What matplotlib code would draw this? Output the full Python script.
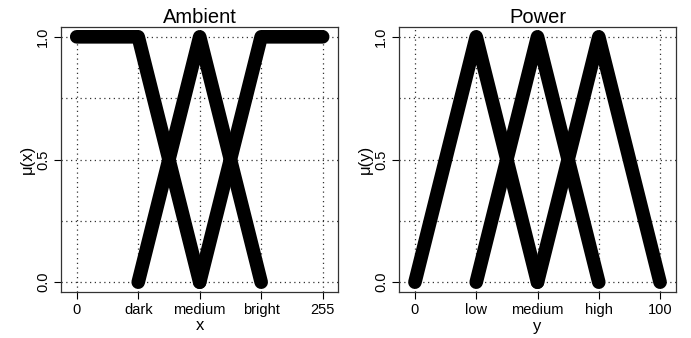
import numpy as np
import matplotlib.pyplot as plt

plt.rcParams['font.family'] = ['Liberation Sans', 'DejaVu Sans']

# Ambient (x) membership functions
amb_ticks = [0, 63.75, 127.5, 191.25, 255]
amb_labels = ["0", "dark", "medium", "bright", "255"]
amb_dark_x = [0, 63.75, 127.5]
amb_dark_y = [1, 1, 0]
amb_medium_x = [63.75, 127.5, 191.25]
amb_medium_y = [0, 1, 0]
amb_bright_x = [127.5, 191.25, 255]
amb_bright_y = [0, 1, 1]

# Power (y) membership functions
pow_ticks = [0, 25, 50, 75, 100]
pow_labels = ["0", "low", "medium", "high", "100"]
pow_low_x = [0, 25, 50]
pow_low_y = [0, 1, 0]
pow_medium_x = [25, 50, 75]
pow_medium_y = [0, 1, 0]
pow_high_x = [50, 75, 100]
pow_high_y = [0, 1, 0]

grid_y = [0, 0.25, 0.5, 0.75, 1.0]
ytick_vals = [0.0, 0.5, 1.0]


def draw_panel(ax, series, ticks, labels, xlim, title, xlabel, ylabel):
    for v in ticks:
        ax.axvline(v, color='0.2', linestyle=(0, (1, 2.8)), linewidth=0.9, zorder=1)
    for v in grid_y:
        ax.axhline(v, color='0.2', linestyle=(0, (1, 2.8)), linewidth=0.9, zorder=1)
    for xs, ys in series:
        ax.plot(xs, ys, color='black', linewidth=9.8, solid_capstyle='round',
                solid_joinstyle='round', zorder=3)
    ax.set_xlim(*xlim)
    ax.set_ylim(-0.04, 1.04)
    ax.set_xticks(ticks)
    ax.set_xticklabels(labels, fontsize=10.5)
    ax.set_yticks(ytick_vals)
    ax.set_yticklabels(["0.0", "0.5", "1.0"], fontsize=10.5, rotation=90, va='center')
    ax.tick_params(length=5, width=0.8, pad=3, color='black')
    ax.set_title(title, fontsize=14.5, pad=2)
    ax.set_xlabel(xlabel, fontsize=12, labelpad=1)
    ax.set_ylabel(ylabel, fontsize=12, labelpad=1)
    for s in ax.spines.values():
        s.set_linewidth(0.9)
        s.set_color('0.2')


fig = plt.figure(figsize=(6.91, 3.38), dpi=100)
ax1 = fig.add_axes([61 / 691, 1 - 292 / 338, 277 / 691, 265 / 338])
ax2 = fig.add_axes([399 / 691, 1 - 292 / 338, 277 / 691, 265 / 338])

draw_panel(ax1,
           [(amb_dark_x, amb_dark_y), (amb_medium_x, amb_medium_y), (amb_bright_x, amb_bright_y)],
           amb_ticks, amb_labels, (-16.3, 270.9), "Ambient", "x", "μ(x)")
draw_panel(ax2,
           [(pow_low_x, pow_low_y), (pow_medium_x, pow_medium_y), (pow_high_x, pow_high_y)],
           pow_ticks, pow_labels, (-6.5, 106.5), "Power", "y", "μ(y)")

fig.savefig("out.png", dpi=100)
